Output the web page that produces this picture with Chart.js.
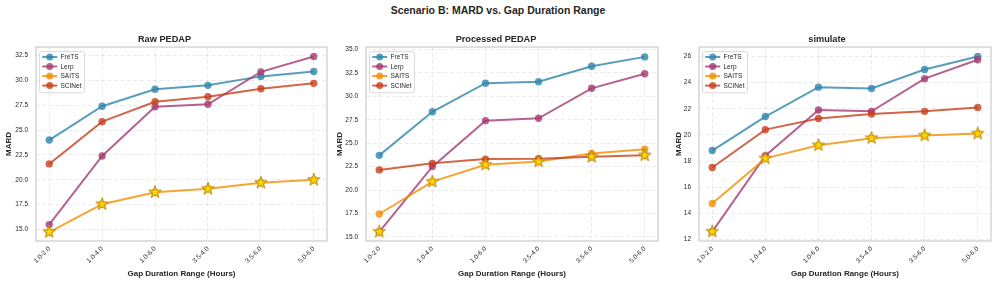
<!DOCTYPE html>
<html>
<head>
<meta charset="utf-8">
<script src="https://cdn.jsdelivr.net/npm/chart.js@4.4.0/dist/chart.umd.min.js"></script>
<style>
  body { margin: 0; width: 996px; height: 283px; background: #fff; position: relative; overflow: hidden;
         font-family: "Liberation Sans", Arial, sans-serif; }
  #suptitle { position: absolute; left: 0; top: 4px; width: 996px; text-align: center;
              font-weight: bold; font-size: 10.5px; line-height: 12px; color: #262626; }
  canvas { position: absolute; top: 28px; }
</style>
</head>
<body>
<div id="suptitle">Scenario B: MARD vs. Gap Duration Range</div>
<canvas id="c1" width="332" height="255" style="left:0px"></canvas>
<canvas id="c2" width="331" height="255" style="left:332px"></canvas>
<canvas id="c3" width="333" height="255" style="left:663px"></canvas>
<script>
// categories
const gapRanges = ["1.0-2.0", "1.0-4.0", "1.0-6.0", "3.5-4.0", "3.5-6.0", "5.0-6.0"];
const models = ["FreTS", "Lerp", "SAITS", "SCINet"];

// Raw PEDAP
const rawFreTS  = [24.0, 27.4, 29.1, 29.5, 30.4, 30.9];
const rawLerp   = [15.5, 22.4, 27.35, 27.6, 30.85, 32.4];
const rawSAITS  = [14.75, 17.55, 18.75, 19.1, 19.7, 20.0];
const rawSCINet = [21.6, 25.85, 27.85, 28.35, 29.15, 29.7];

// Processed PEDAP
const procFreTS  = [23.7, 28.35, 31.4, 31.55, 33.2, 34.2];
const procLerp   = [15.55, 22.5, 27.4, 27.65, 30.85, 32.4];
const procSAITS  = [17.45, 20.9, 22.7, 23.05, 23.9, 24.35];
const procSCINet = [22.15, 22.85, 23.3, 23.35, 23.55, 23.7];

// simulate
const simFreTS  = [18.8, 21.4, 23.65, 23.55, 25.0, 26.0];
const simLerp   = [12.6, 18.4, 21.9, 21.8, 24.3, 25.75];
const simSAITS  = [14.75, 18.2, 19.2, 19.75, 19.95, 20.1];
const simSCINet = [17.5, 20.4, 21.25, 21.6, 21.8, 22.1];

// tick labels
const rawTicks  = [15.0, 17.5, 20.0, 22.5, 25.0, 27.5, 30.0, 32.5];
const procTicks = [15.0, 17.5, 20.0, 22.5, 25.0, 27.5, 30.0, 32.5, 35.0];
const simTicks  = [12, 14, 16, 18, 20, 22, 24, 26];

const colors = ["rgba(46,134,171,0.8)", "rgba(162,59,114,0.8)", "rgba(241,143,1,0.8)", "rgba(199,62,29,0.8)"];
const textColor = "#262626";
const fontFamily = '"Liberation Sans", Arial, sans-serif';
Chart.defaults.font.family = fontFamily;
Chart.defaults.color = textColor;

// gold star marker for the best model at each range
function makeStar() {
  const c = document.createElement("canvas");
  c.width = 16; c.height = 16;
  const g = c.getContext("2d");
  const R = 6.6, r = R * 0.382;
  g.beginPath();
  for (let i = 0; i < 10; i++) {
    const rad = i % 2 ? r : R;
    const a = -Math.PI / 2 + i * Math.PI / 5;
    const px = 8 + rad * Math.cos(a), py = 8 + rad * Math.sin(a);
    i ? g.lineTo(px, py) : g.moveTo(px, py);
  }
  g.closePath();
  g.fillStyle = "#FFD700";
  g.fill();
  g.strokeStyle = "#B8860B";
  g.lineWidth = 1;
  g.stroke();
  return c;
}
const starImg = makeStar();

// frame round the plot area and the legend box in the upper left
const panelDeco = {
  id: "panelDeco",
  afterDatasetsDraw(chart) {
    const { ctx, chartArea: a } = chart;
    ctx.save();
    ctx.strokeStyle = "#cccccc";
    ctx.lineWidth = 1.25;
    ctx.strokeRect(a.left, a.top, a.right - a.left, a.bottom - a.top);

    const items = chart.data.datasets.filter(d => !d.isBest);
    ctx.font = "6.5px " + fontFamily;
    const textW = Math.max(...items.map(d => ctx.measureText(d.label).width));
    const bx = a.left + 3.5, by = a.top + 4.5, rowH = 9.55;
    const bw = 21 + textW + 3, bh = items.length * rowH + 3;
    ctx.beginPath();
    ctx.roundRect(bx, by, bw, bh, 2);
    ctx.fillStyle = "rgba(255,255,255,0.8)";
    ctx.fill();
    ctx.strokeStyle = "#d0d0d0";
    ctx.lineWidth = 0.8;
    ctx.stroke();
    items.forEach((d, i) => {
      const cy = by + 5.4 + i * rowH;
      ctx.strokeStyle = d.borderColor;
      ctx.lineWidth = 2;
      ctx.beginPath();
      ctx.moveTo(bx + 2.7, cy);
      ctx.lineTo(bx + 17.7, cy);
      ctx.stroke();
      ctx.fillStyle = d.pointBackgroundColor;
      ctx.beginPath();
      ctx.arc(bx + 10.2, cy, 3.5, 0, Math.PI * 2);
      ctx.fill();
      ctx.fillStyle = textColor;
      ctx.textBaseline = "middle";
      ctx.fillText(d.label, bx + 21, cy + 0.3);
    });
    ctx.restore();
  }
};

function drawPanel(id, title, series, yMin, yMax, yTicks, decimals, yWidth, padRight, yTitlePad) {
  const ctx = document.getElementById(id).getContext("2d");

  const datasets = series.map((vals, i) => ({
    label: models[i],
    data: vals.map((v, j) => ({ x: j, y: v })),
    borderColor: colors[i],
    backgroundColor: colors[i],
    pointBackgroundColor: colors[i],
    pointBorderWidth: 0,
    pointRadius: 3.7,
    borderWidth: 2,
    order: series.length - i
  }));

  // best (lowest MARD) at each range
  const best = gapRanges.map((_, j) => Math.min(...series.map(s => s[j])));
  datasets.push({
    label: "best",
    isBest: true,
    data: best.map((v, j) => ({ x: j, y: v })),
    showLine: false,
    pointStyle: starImg,
    order: 0
  });

  new Chart(ctx, {
    type: "line",
    data: { datasets: datasets },
    options: {
      responsive: false,
      animation: false,
      layout: { padding: { right: padRight } },
      plugins: {
        legend: { display: false },
        tooltip: { enabled: false },
        title: {
          display: true,
          text: title,
          color: textColor,
          font: { size: 9.2, weight: "bold" },
          padding: { top: 5.5, bottom: 2.5 }
        }
      },
      scales: {
        x: {
          type: "linear",
          min: -0.25,
          max: 5.25,
          afterBuildTicks: s => { s.ticks = gapRanges.map((_, j) => ({ value: j })); },
          afterFit: s => { s.height = 42; },
          ticks: {
            callback: v => gapRanges[v],
            minRotation: 45,
            maxRotation: 45,
            padding: 4,
            font: { size: 6.5 },
            color: textColor
          },
          grid: { color: "rgba(0,0,0,0.1)", lineWidth: 0.8, drawTicks: false },
          border: { display: false, dash: [4, 2.5] },
          title: {
            display: true,
            text: "Gap Duration Range (Hours)",
            color: textColor,
            font: { size: 8, weight: "bold" },
            padding: { top: 0, bottom: 4.9 }
          }
        },
        y: {
          min: yMin,
          max: yMax,
          afterBuildTicks: s => { s.ticks = yTicks.map(v => ({ value: v })); },
          afterFit: s => { s.width = yWidth; },
          ticks: {
            callback: v => v.toFixed(decimals),
            padding: 8,
            font: { size: 6.5 },
            color: textColor
          },
          grid: { color: "rgba(0,0,0,0.1)", lineWidth: 0.8, drawTicks: false },
          border: { display: false, dash: [4, 2.5] },
          title: {
            display: true,
            text: "MARD",
            color: textColor,
            font: { size: 8, weight: "bold" },
            padding: { top: yTitlePad, bottom: 0 }
          }
        }
      }
    },
    plugins: [panelDeco]
  });
}

drawPanel("c1", "Raw PEDAP", [rawFreTS, rawLerp, rawSAITS, rawSCINet], 13.85, 33.35, rawTicks, 1, 36, 3, 3.5);
drawPanel("c2", "Processed PEDAP", [procFreTS, procLerp, procSAITS, procSCINet], 14.57, 35.25, procTicks, 1, 34, 3, 2.5);
drawPanel("c3", "simulate", [simFreTS, simLerp, simSAITS, simSCINet], 11.88, 26.72, simTicks, 0, 36, 5, 10.5);
</script>
</body>
</html>
